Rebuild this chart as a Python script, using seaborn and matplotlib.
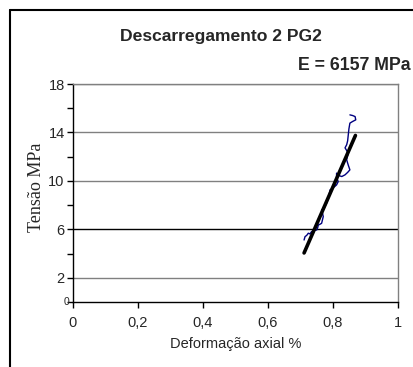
import matplotlib
matplotlib.use("Agg")
import matplotlib.pyplot as plt
import seaborn as sns
import pandas as pd
from matplotlib.lines import Line2D

# data
curve_x = [0.711, 0.714, 0.719, 0.724, 0.729, 0.734, 0.742, 0.750, 0.753, 0.755, 0.760,
           0.765, 0.770, 0.768, 0.765, 0.770, 0.775, 0.781, 0.786, 0.791, 0.797, 0.801,
           0.806, 0.811, 0.816, 0.811, 0.811, 0.817, 0.827, 0.837, 0.845, 0.852, 0.847,
           0.842, 0.847, 0.837, 0.842, 0.845, 0.847, 0.849, 0.852, 0.860, 0.870, 0.868,
           0.860, 0.852]
curve_y = [5.12, 5.40, 5.50, 5.68, 5.62, 5.81, 5.90, 5.95, 6.15, 6.36, 6.42,
           6.50, 7.05, 7.30, 7.60, 7.70, 7.88, 8.20, 8.57, 9.26, 9.35, 9.45,
           9.55, 9.67, 9.94, 10.30, 10.64, 10.45, 10.36, 10.50, 10.70, 10.91, 11.30,
           11.74, 12.29, 12.73, 12.98, 13.30, 13.80, 14.30, 14.77, 14.90, 15.04, 15.31,
           15.40, 15.45]
fit_x = [0.711, 0.869]
fit_y = [4.05, 13.75]
title = "Descarregamento 2 PG2"
annot = "E = 6157 MPa"
xticks = [0, 0.2, 0.4, 0.6, 0.8, 1.0]
xticklabels = ["0", "0,2", "0,4", "0,6", "0,8", "1"]
ytick_major = [2, 6, 10, 14, 18]
ytick_labels = ["2", "6", "10", "14", "18"]
ytick_minor = [0, 4, 8, 12, 16]

sns.set_style("white")
plt.rcParams["font.family"] = ["Liberation Sans", "DejaVu Sans"]

fig = plt.figure(figsize=(4.14, 3.67), dpi=100)
ax = fig.add_axes([73/414, 65/367, 325/414, 218/367])

df_c = pd.DataFrame({"x": curve_x, "y": curve_y})
df_f = pd.DataFrame({"x": fit_x, "y": fit_y})
sns.lineplot(data=df_c, x="x", y="y", sort=False, estimator=None, ax=ax,
             color="#000080", linewidth=1.0)
sns.lineplot(data=df_f, x="x", y="y", sort=False, estimator=None, ax=ax,
             color="black", linewidth=2.6)

ax.set_xlim(0, 1)
ax.set_ylim(0, 18)
for v in ytick_major:
    ax.axhline(v, color="#000000" if v == 6 else "#808080", linewidth=1.0, zorder=0)

ax.set_xticks(xticks)
ax.set_xticklabels(xticklabels, fontsize=10.5)
ax.set_yticks(ytick_major)
ax.set_yticklabels(ytick_labels, fontsize=10.5)
ax.set_yticks(ytick_minor, minor=True)
ax.tick_params(axis="both", which="both", direction="out", length=4, width=1,
               color="black", pad=2, left=True, bottom=True)
ax.tick_params(axis="x", pad=6)
ax.text(-0.012, 0, "0", transform=ax.get_yaxis_transform(), ha="right",
        va="center", fontsize=7.5)

for s in ["left", "bottom"]:
    ax.spines[s].set_color("black")
    ax.spines[s].set_linewidth(1.0)
for s in ["top", "right"]:
    ax.spines[s].set_color("#808080")
    ax.spines[s].set_linewidth(1.0)

ax.set_xlabel("Deformação axial %", fontsize=10.5, labelpad=5)
ax.set_ylabel("Tensão MPa", fontsize=13, family=["Liberation Serif", "DejaVu Serif"],
              va="center")
ax.yaxis.set_label_coords(-0.111, 0.528)

fig.text(221/414, 1 - 36/367, title, ha="center", va="center", fontsize=12.6,
         fontweight="bold")
fig.text(411/414, 1 - 65/367, annot, ha="right", va="center", fontsize=12.8,
         fontweight="bold")

# outer chart frame
fig.add_artist(Line2D([10/414, 10/414], [0, 1 - 10/367], transform=fig.transFigure,
                      color="black", linewidth=1.5))
fig.add_artist(Line2D([10/414, 1], [1 - 10/367, 1 - 10/367], transform=fig.transFigure,
                      color="black", linewidth=1.5))

fig.savefig("out.png", dpi=100)
